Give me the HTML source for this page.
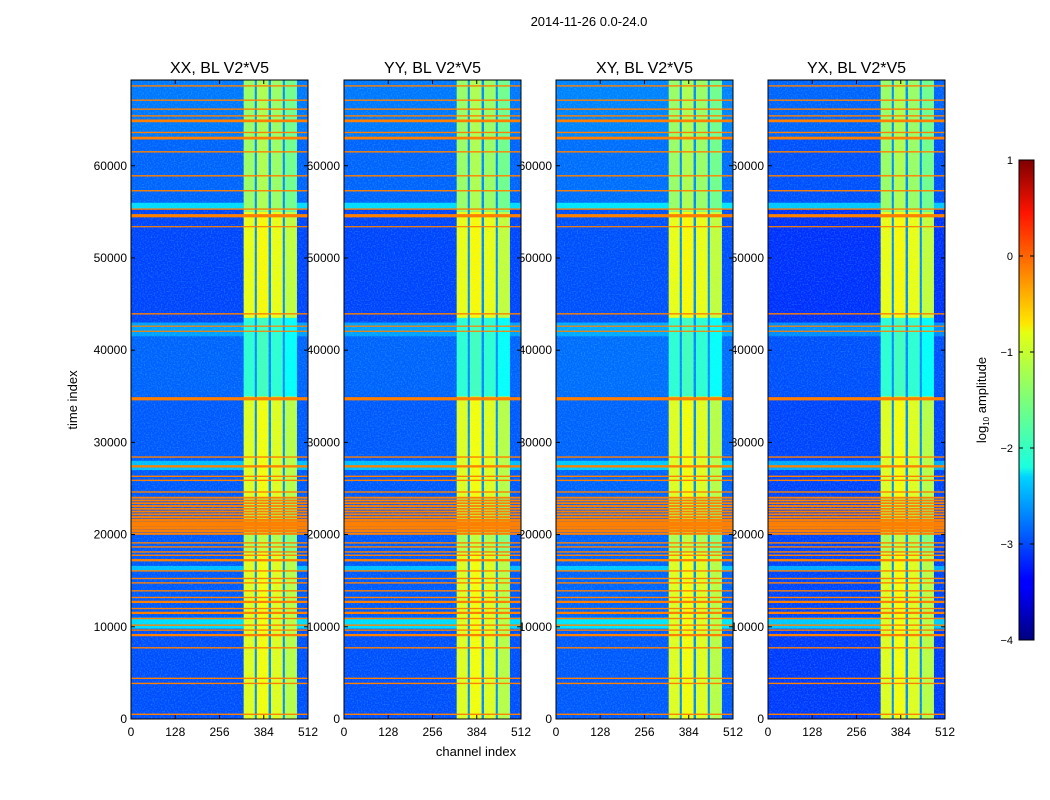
<!DOCTYPE html>
<html><head><meta charset="utf-8"><style>
body{margin:0;background:#fff;width:1050px;height:800px;overflow:hidden}
svg{position:absolute;left:0;top:0}
text{font-family:"Liberation Sans",sans-serif;fill:#000}
</style></head><body>
<svg id="chart" width="1050" height="800" xmlns="http://www.w3.org/2000/svg">
<defs>
<filter id="noise" x="0" y="0" width="1" height="1"><feTurbulence type="fractalNoise" baseFrequency="0.7" numOctaves="1" seed="3"/><feColorMatrix type="matrix" values="0 0 0 0 0.1  0 0 0 0 0.9  0 0 0 0 1  0 0 0 1.8 -0.8"/><feComposite in2="SourceGraphic" operator="in"/></filter>
<linearGradient id="jet" x1="0" y1="1" x2="0" y2="0">
<stop offset="0" stop-color="#00007f"/><stop offset="0.11" stop-color="#0000ff"/><stop offset="0.125" stop-color="#0000ff"/><stop offset="0.34" stop-color="#00d4ff"/><stop offset="0.36" stop-color="#1affe0"/><stop offset="0.5" stop-color="#7cff79"/><stop offset="0.64" stop-color="#e4ff13"/><stop offset="0.66" stop-color="#ffe600"/><stop offset="0.89" stop-color="#ff1300"/><stop offset="1" stop-color="#7f0000"/>
</linearGradient>
</defs>
<text x="589" y="26" font-size="13" text-anchor="middle">2014-11-26 0.0-24.0</text>
<text x="476" y="756" font-size="13" text-anchor="middle">channel index</text>
<text transform="translate(77,400) rotate(-90)" font-size="13" text-anchor="middle">time index</text>
<g id="labels"></g>
<g id="panels"></g>
<g>
<rect x="1019" y="160" width="15" height="480" fill="url(#jet)" stroke="#000" stroke-width="1"/>
<g id="cbticks"></g>
<text transform="translate(986,400) rotate(-90)" font-size="13" text-anchor="middle">log<tspan font-size="8" dy="3">10</tspan><tspan dy="-3"> amplitude</tspan></text>
</g>
</svg>
<script>
const panelTitles=["XX, BL V2*V5","YY, BL V2*V5","XY, BL V2*V5","YX, BL V2*V5"];
const xTicks=[0,128,256,384,512];
const yTicks=[0,10000,20000,30000,40000,50000,60000];
const cbTicks=[1,0,-1,-2,-3,-4];
// background level segments
const bgSegStart=[0,9800,16000,27000,28500,35000,41500,43000,55300,56000,63000];
const bgSegEnd=[9800,11000,16600,28000,35000,41500,43000,55300,56000,63000,69300];
const bgLevel=[-3.0,-2.3,-2.45,-2.45,-2.95,-2.9,-2.6,-3.05,-2.3,-2.9,-2.8];
// bright channel columns
const bandStart=[326,364,405,445];
const bandEnd=[358,398,439,480];
const bandSegStart=[0,18000,24000,35000,43500,55000];
const bandSegEnd=[18000,24000,35000,43500,55000,69300];
const bandLevel=[-1.0,-1.25,-1.0,-1.9,-0.95,-1.35];
const panelOffset=[0,0.0,0.05,-0.1];
// RFI stripes (time index, thickness in time units)
const stripeTimes=[510,3860,4410,7720,9100,9640,10180,10900,11510,11980,12700,13180,13900,14760,15240,16060,17220,17760,18120,18660,19100,20100,20400,20700,21000,21300,21600,21900,22200,22500,22800,23100,23400,23700,24000,24620,25880,26320,27400,28410,34730,42050,42600,43940,53390,54580,55300,57290,58910,61510,63000,63610,64870,65410,66140,67110,68660];
const stripeWidth=[150,150,150,150,250,150,150,150,250,150,250,150,150,150,150,150,250,150,150,150,150,250,250,300,300,300,250,200,200,200,200,200,200,200,200,150,150,150,250,150,350,100,100,150,120,350,150,150,150,150,300,150,300,150,150,150,150];
const stripeLevel=-0.25;
const tMax=69300;
const panelX=[131,344,556,768], panelW=177, plotTop=80, plotBottom=719;

function jet(v){let x=(v+4)/5;x=Math.max(0,Math.min(1,x));
 const r=Math.min(4*x-1.5,-4*x+4.5),g=Math.min(4*x-0.5,-4*x+3.5),b=Math.min(4*x+0.5,-4*x+2.5);
 const c=t=>Math.round(255*Math.max(0,Math.min(1,t)));return `rgb(${c(r)},${c(g)},${c(b)})`;}
const NS="http://www.w3.org/2000/svg";
function el(tag,attrs,parent){const e=document.createElementNS(NS,tag);for(const k in attrs)e.setAttribute(k,attrs[k]);parent.appendChild(e);return e;}
const panels=document.getElementById('panels');
const labels=document.getElementById('labels');
panelX.forEach((px,pi)=>{
 const xs=c=>px+c/512*panelW, ys=t=>plotBottom-t/tMax*(plotBottom-plotTop);
 const g=el('g',{},panels);
 
 
 const bgr=el('rect',{x:px,y:plotTop,width:panelW,height:plotBottom-plotTop,fill:jet(-2.95+panelOffset[pi])},g);
 
 
 bgSegStart.forEach((s,i)=>{const r=el('rect',{x:px,y:ys(bgSegEnd[i]),width:panelW,height:ys(s)-ys(bgSegEnd[i]),fill:jet(bgLevel[i]+panelOffset[pi])},g);
  
  });
 const gr=el('rect',{x:xs(bandStart[0]),y:plotTop,width:xs(bandEnd[3])-xs(bandStart[0]),height:plotBottom-plotTop,fill:jet(-2.7)},g);
 
 
 bandStart.forEach((cs,bi)=>{bandSegStart.forEach((s,si)=>{
  const r=el('rect',{x:xs(cs),y:ys(bandSegEnd[si]),width:xs(bandEnd[bi])-xs(cs),height:ys(s)-ys(bandSegEnd[si]),fill:jet(bandLevel[si]+(bi===1?0.1:0)-(bi===3?0.2:0))},g);
  
  });});
 el('rect',{x:px,y:plotTop,width:panelW,height:plotBottom-plotTop,fill:'#fff',filter:'url(#noise)',opacity:0.4},g);
 stripeTimes.forEach((t,i)=>{const h=Math.max(1.2,ys(t)-ys(t+stripeWidth[i]));
  const r=el('rect',{x:px,y:ys(t)-h/2,width:panelW,height:h,fill:jet(stripeLevel)},g);
  
  });
 el('rect',{x:px,y:plotTop,width:panelW,height:plotBottom-plotTop,fill:'none',stroke:'#000','stroke-width':1},g);
 const tt=el('text',{x:px+panelW/2,y:73,'font-size':16,'text-anchor':'middle'},labels);tt.textContent=panelTitles[pi];
 
 
 xTicks.forEach(v=>{const x=xs(v);el('line',{x1:x,x2:x,y1:plotBottom,y2:plotBottom-4,stroke:'#000'},g);el('line',{x1:x,x2:x,y1:plotTop,y2:plotTop+4,stroke:'#000'},g);
  const l=el('text',{x:x,y:736,'font-size':12,'text-anchor':'middle'},labels);l.textContent=v;
  
  });
 yTicks.forEach(v=>{const y=ys(v);el('line',{x1:px,x2:px+4,y1:y,y2:y,stroke:'#000'},g);el('line',{x1:px+panelW,x2:px+panelW-4,y1:y,y2:y,stroke:'#000'},g);
  const l=el('text',{x:px-4,y:y+4,'font-size':12,'text-anchor':'end'},labels);l.textContent=v;
  
  });
});
const cb=document.getElementById('cbticks');
cbTicks.forEach(v=>{const y=640-(v+4)/5*480;
 el('line',{x1:1019,x2:1023,y1:y,y2:y,stroke:'#000'},cb);el('line',{x1:1030,x2:1034,y1:y,y2:y,stroke:'#000'},cb);
 const l=el('text',{x:1013,y:y+4,'font-size':11,'text-anchor':'end'},cb);l.textContent=v<0?'\u2212'+(-v):v;
 
 });
</script>
</body></html>
